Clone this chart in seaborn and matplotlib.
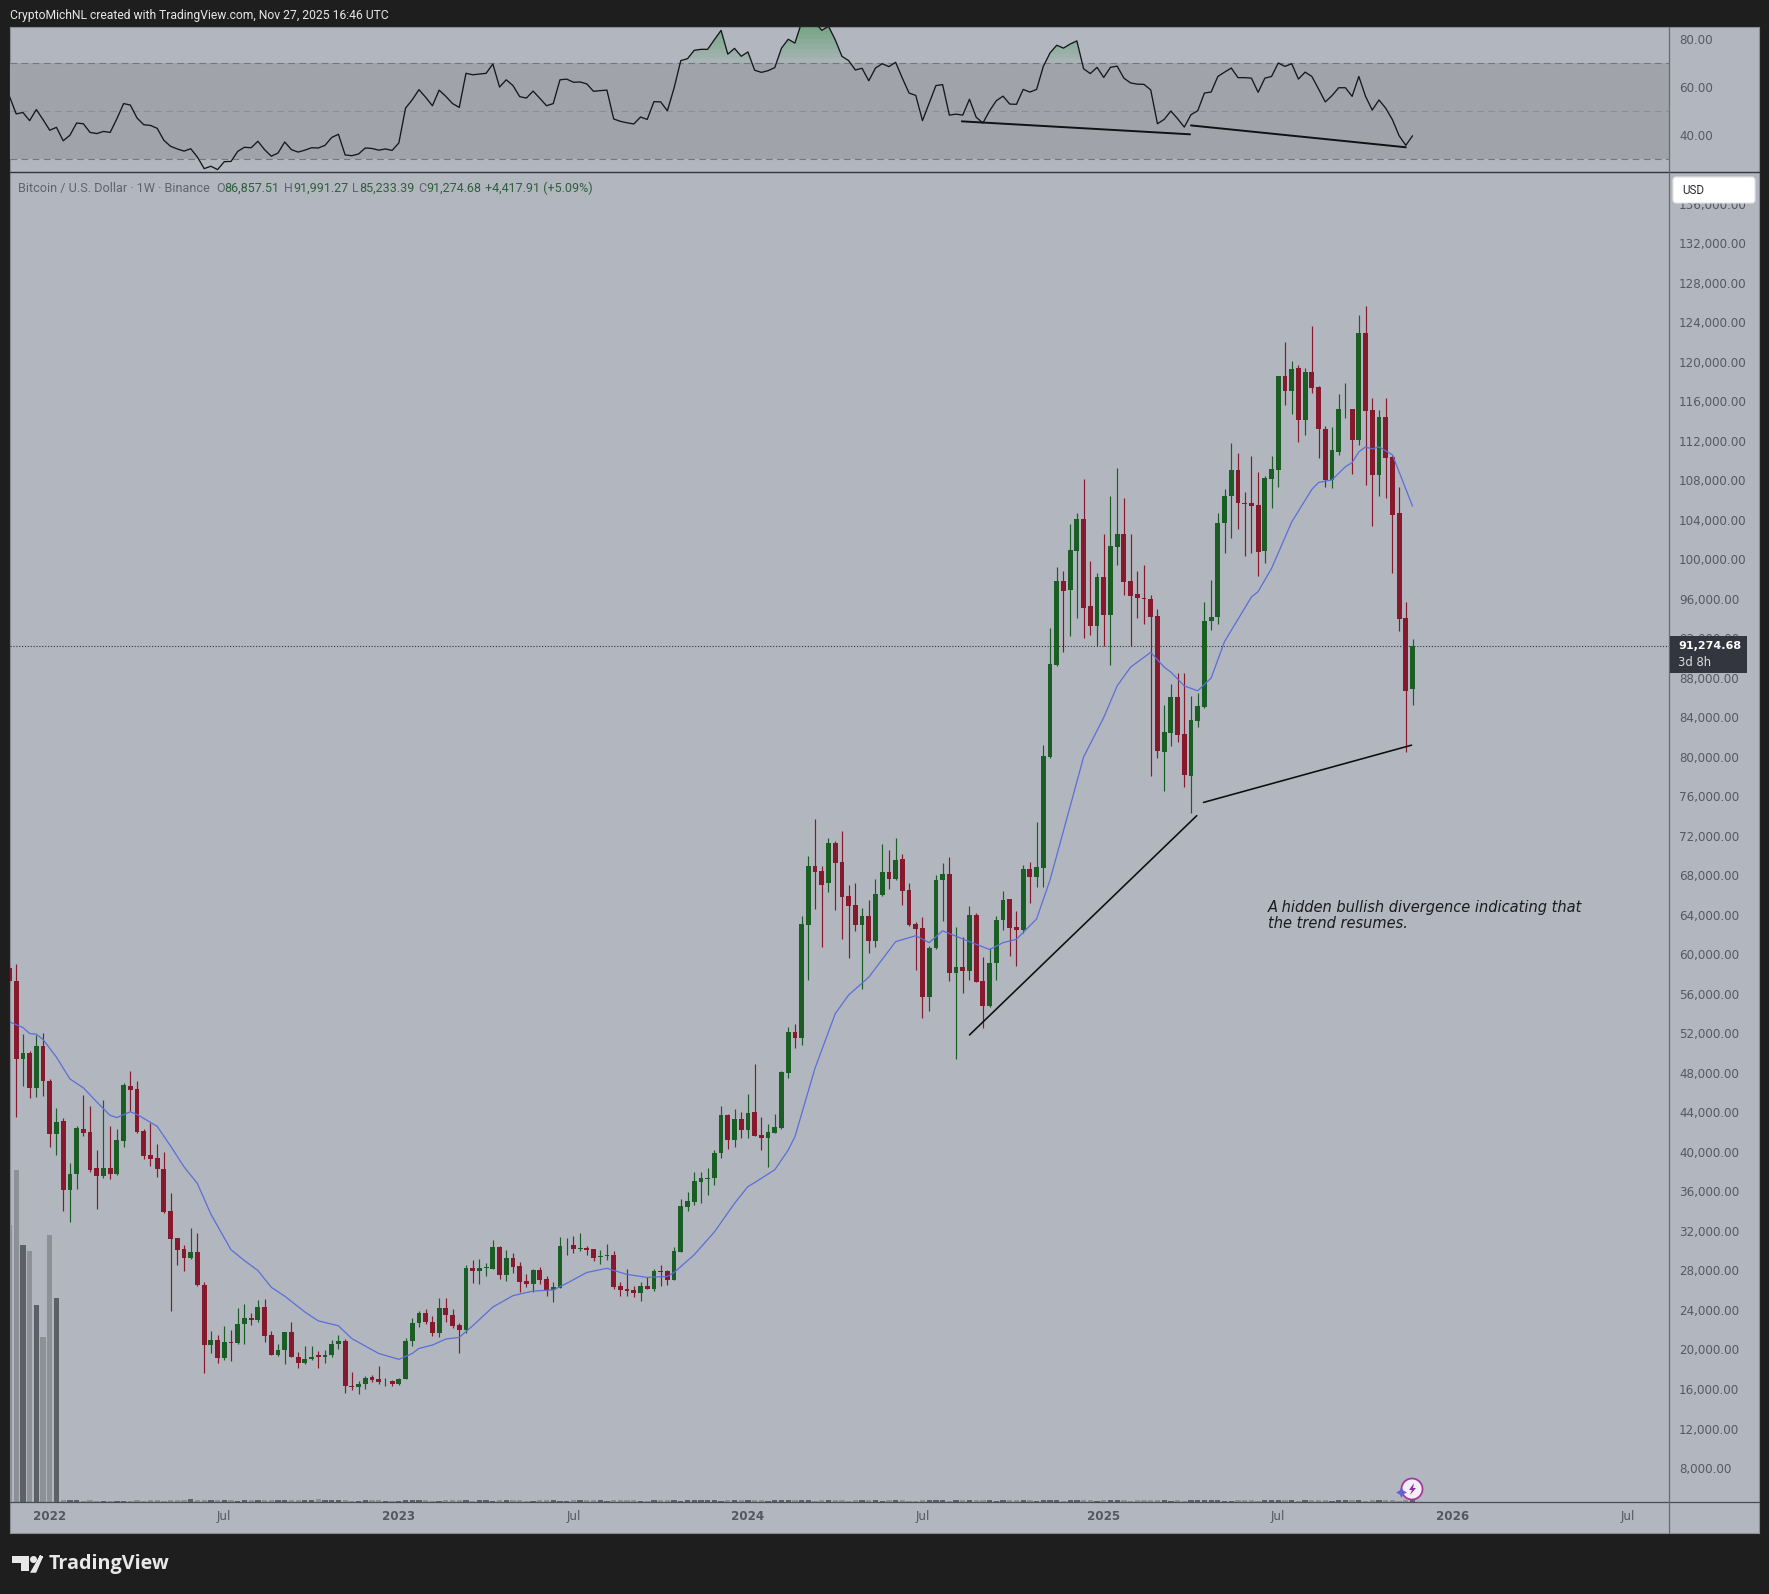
import numpy as np
import pandas as pd
import matplotlib
matplotlib.use("Agg")
import matplotlib.pyplot as plt
import seaborn as sns
from matplotlib.patches import Rectangle, FancyBboxPatch, Circle, Polygon

# weekly candles in thousands of USD (first one is cut by the left edge)
opens = [58.6, 57.3, 49.4, 50.06, 46.53, 50.7, 47.2, 41.87, 43.1, 36.2,
         37.8, 42.3, 42.0, 38.33, 37.6, 38.33, 37.8, 41.1, 46.7, 46.4,
         42.1, 39.7, 39.4, 38.3, 34.05, 31.25, 30.22, 29.27, 29.85, 26.5,
         20.45, 20.95, 19.16, 20.8, 20.7, 22.54, 23.24, 23.0, 24.28, 21.45,
         19.45, 19.9, 21.74, 19.28, 18.66, 19.0, 19.45, 19.2, 19.49, 20.53,
         20.9, 16.29, 16.21, 16.46, 17.2, 17.0, 16.66, 16.8, 16.46, 17.04,
         20.87, 22.7, 23.7, 22.83, 21.7, 24.2, 23.49, 22.51, 21.97, 28.25,
         27.98, 28.28, 28.2, 30.38, 27.54, 29.27, 28.45, 26.94, 26.63, 28.08,
         27.14, 25.99, 26.26, 30.55, 30.6, 30.18, 30.28, 30.18, 29.4, 29.5,
         29.57, 26.43, 26.09, 26.0, 25.69, 26.43, 26.1, 27.98, 27.95, 27.04,
         29.87, 34.46, 34.94, 36.96, 37.3, 37.33, 39.86, 43.75, 41.21, 43.31,
         42.23, 44.0, 41.72, 41.45, 41.96, 42.4, 47.97, 52.12, 51.58, 63.02,
         68.97, 68.49, 67.21, 71.33, 69.37, 65.93, 64.98, 62.99, 63.9, 61.4,
         66.03, 68.39, 67.65, 69.64, 66.53, 63.09, 62.65, 55.73, 60.63, 67.55,
         68.15, 58.16, 58.7, 58.33, 64.0, 57.32, 54.82, 59.11, 63.5, 65.62,
         62.79, 62.48, 68.66, 67.89, 68.79, 80.03, 89.32, 97.83, 96.92, 100.9,
         104.14, 95.3, 93.3, 98.27, 94.38, 101.3, 102.59, 97.83, 96.51, 96.1,
         96.0, 94.3, 80.54, 82.47, 86.11, 82.33, 78.08, 83.68, 85.1, 93.78,
         94.2, 103.74, 106.44, 109.07, 105.76, 105.69, 105.52, 100.87, 108.16, 109.07,
         118.59, 117.1, 119.37, 114.13, 118.96, 117.51, 113.22, 108.06, 110.86, 115.2,
         115.28, 112.11, 122.91, 115.15, 108.56, 114.47, 110.42, 104.68, 94.05, 86.86]
highs = [59.0, 59.0, 51.9, 50.2, 51.85, 52.0, 47.4, 44.45, 43.4, 38.85,
         42.6, 45.8, 44.66, 40.2, 45.3, 42.6, 42.3, 46.94, 48.2, 47.15,
         42.3, 42.95, 40.8, 40.0, 35.8, 31.25, 30.6, 32.26, 31.76, 26.85,
         21.86, 21.45, 22.4, 22.0, 24.2, 24.61, 23.65, 25.03, 25.1, 21.86,
         20.6, 21.78, 22.74, 19.7, 20.33, 20.33, 19.8, 19.9, 20.95, 21.45,
         21.03, 17.7, 16.79, 17.33, 17.41, 18.33, 17.08, 16.92, 17.12, 21.16,
         23.24, 23.86, 24.15, 23.36, 25.19, 25.19, 24.07, 22.72, 28.52, 29.06,
         29.16, 28.8, 31.09, 30.52, 30.08, 29.74, 28.89, 27.65, 28.15, 28.39,
         27.44, 26.83, 31.36, 31.26, 31.49, 31.76, 30.48, 30.18, 30.08, 30.68,
         30.0, 26.83, 28.15, 26.43, 26.83, 27.37, 28.12, 28.52, 28.05, 30.35,
         35.2, 35.9, 37.94, 37.94, 38.35, 40.2, 44.66, 43.85, 44.32, 44.08,
         45.87, 48.88, 43.58, 42.83, 43.85, 48.24, 52.69, 52.93, 63.9, 69.98,
         73.73, 68.97, 71.77, 71.5, 72.54, 67.04, 67.21, 64.68, 65.52, 67.65,
         71.19, 70.59, 71.77, 70.18, 67.28, 63.33, 63.77, 60.9, 68.05, 69.3,
         69.84, 62.82, 61.74, 64.95, 64.24, 59.78, 60.63, 63.94, 66.47, 65.62,
         64.41, 69.07, 69.34, 73.39, 81.2, 93.03, 99.28, 98.84, 103.57, 104.75,
         108.16, 99.85, 98.67, 102.55, 106.44, 109.3, 106.2, 102.55, 98.84, 99.45,
         96.41, 95.0, 85.27, 87.36, 88.54, 88.48, 86.18, 86.45, 95.73, 97.93,
         104.75, 107.11, 111.84, 110.76, 106.87, 110.49, 108.9, 108.46, 110.49, 118.59,
         122.07, 120.1, 119.7, 119.37, 123.65, 117.61, 113.53, 113.39, 116.77, 117.91,
         115.28, 124.77, 125.71, 116.33, 115.15, 116.33, 110.59, 107.38, 95.73, 91.99]
lows = [56.9, 43.5, 46.7, 45.5, 45.6, 45.7, 40.5, 39.66, 34.05, 32.9,
        36.25, 41.66, 38.0, 34.2, 37.4, 37.25, 37.7, 40.5, 44.15, 41.95,
        39.25, 38.6, 37.5, 33.85, 23.85, 28.56, 27.94, 29.2, 26.45, 17.6,
        19.6, 18.66, 18.95, 18.79, 20.6, 20.6, 22.53, 22.8, 20.74, 19.4,
        19.37, 18.54, 19.2, 18.12, 18.54, 18.95, 18.12, 18.66, 19.28, 20.03,
        15.63, 15.88, 15.46, 15.96, 16.7, 16.54, 16.29, 16.33, 16.44, 17.0,
        20.4, 22.32, 22.6, 21.37, 21.3, 22.82, 22.2, 19.61, 21.7, 26.77,
        26.63, 27.44, 28.12, 27.14, 26.97, 27.78, 25.86, 26.29, 25.86, 26.6,
        25.45, 24.81, 26.23, 29.57, 29.8, 29.94, 29.54, 29.0, 28.66, 29.06,
        26.09, 25.45, 25.45, 25.35, 24.91, 26.13, 25.92, 26.43, 26.53, 27.0,
        29.84, 34.06, 34.6, 34.8, 35.65, 36.7, 39.36, 40.27, 40.54, 41.45,
        41.45, 41.6, 40.2, 38.51, 41.89, 42.33, 47.53, 50.57, 50.84, 57.42,
        64.58, 60.8, 66.37, 64.51, 61.54, 59.68, 62.42, 56.51, 60.19, 60.73,
        65.93, 66.64, 67.55, 65.02, 62.89, 58.43, 53.54, 54.28, 60.56, 63.43,
        57.35, 49.38, 56.07, 57.42, 57.18, 52.59, 54.65, 57.42, 62.48, 59.85,
        58.87, 62.21, 65.25, 66.8, 66.8, 79.9, 89.22, 90.67, 92.29, 94.05,
        92.09, 92.36, 91.28, 91.28, 89.32, 99.45, 96.41, 91.28, 94.11, 93.44,
        78.11, 79.93, 76.59, 81.15, 81.49, 77.0, 74.3, 83.08, 85.0, 92.86,
        93.44, 100.63, 102.15, 103.06, 100.36, 100.63, 98.33, 99.68, 105.19, 107.38,
        115.65, 114.74, 111.87, 112.61, 116.83, 110.25, 107.38, 107.28, 110.59, 114.3,
        108.66, 111.6, 107.55, 103.43, 106.47, 106.2, 98.6, 92.76, 80.48, 85.23]
closes = [57.3, 49.4, 50.0, 46.53, 50.7, 47.2, 41.87, 43.0, 36.2, 37.8,
          42.4, 41.9, 38.2, 37.6, 38.33, 37.8, 41.2, 46.8, 46.3, 42.0,
          39.6, 39.3, 38.3, 33.9, 31.2, 30.1, 29.27, 29.85, 26.5, 20.45,
          20.95, 19.16, 20.74, 20.66, 22.57, 23.24, 22.95, 24.28, 21.37, 19.45,
          19.9, 21.74, 19.28, 18.66, 19.0, 19.28, 19.2, 19.49, 20.53, 20.9,
          16.29, 16.21, 16.46, 17.12, 16.96, 16.66, 16.75, 16.46, 17.04, 20.87,
          22.7, 23.7, 22.78, 21.7, 24.2, 23.45, 22.38, 21.97, 28.25, 27.98,
          28.25, 28.39, 30.38, 27.54, 29.27, 28.32, 26.83, 26.63, 28.08, 27.04,
          26.0, 26.33, 30.48, 30.6, 30.14, 30.24, 30.08, 29.26, 29.47, 29.57,
          26.33, 26.03, 25.96, 25.69, 26.43, 26.16, 27.95, 27.88, 27.04, 29.97,
          34.53, 35.04, 37.06, 37.37, 37.37, 39.86, 43.75, 41.21, 43.31, 42.23,
          43.92, 41.62, 41.45, 41.99, 42.5, 48.14, 52.12, 51.58, 63.09, 69.0,
          68.39, 67.04, 71.33, 69.3, 65.86, 64.91, 63.02, 63.9, 61.4, 66.13,
          68.39, 67.65, 69.57, 66.47, 62.99, 62.58, 55.73, 60.63, 67.55, 68.15,
          58.16, 58.7, 58.33, 64.0, 57.25, 54.82, 59.11, 63.5, 65.52, 62.72,
          62.48, 68.66, 67.89, 68.83, 80.1, 89.42, 97.83, 96.85, 100.97, 104.14,
          95.13, 93.3, 98.2, 94.38, 101.37, 102.59, 97.76, 96.34, 96.14, 96.0,
          94.2, 80.6, 82.5, 86.11, 82.23, 78.18, 83.75, 85.17, 93.78, 94.2,
          103.74, 106.44, 109.07, 105.69, 105.63, 105.42, 100.8, 108.23, 109.14, 118.59,
          117.1, 119.27, 114.13, 118.96, 117.41, 113.19, 108.06, 111.1, 115.21, 115.25,
          112.11, 122.91, 115.08, 108.56, 114.47, 110.32, 104.51, 93.98, 86.69, 91.27468]

# volume, arbitrary units (only the first bars stick out, the rest are stubs on the axis)
volume = [277, 332, 257, 251, 197, 165, 267, 204,
          2, 2, 2, 1, 2, 1, 1, 1, 1, 1, 1, 2, 1, 2, 2, 1, 2, 2, 2, 3, 2, 2,
          2, 2, 2, 2, 1, 2, 2, 2, 2, 2, 2, 2, 2, 2, 2, 2, 3, 2, 2, 2, 2, 1,
          1, 2, 2, 2, 1, 1, 1, 2, 2, 2, 2, 1, 1, 2, 2, 2, 2, 1, 2, 2, 1, 2,
          2, 2, 2, 1, 1, 2, 2, 2, 1, 1, 2, 2, 2, 2, 2, 1, 2, 2, 2, 2, 1, 1,
          2, 2, 2, 2, 1, 2, 2, 2, 2, 2, 1, 2, 2, 2, 2, 2, 2, 1, 2, 2, 2, 2,
          2, 2, 1, 2, 2, 2, 2, 1, 2, 2, 2, 2, 1, 2, 2, 2, 1, 1, 2, 2, 2, 2,
          1, 2, 2, 2, 2, 2, 2, 1, 2, 2, 2, 2, 2, 1, 2, 2, 2, 1, 2, 2, 2, 2,
          1, 2, 2, 2, 2, 1, 2, 2, 2, 2, 2, 1, 2, 1, 2, 2, 2, 2, 2, 1, 1, 2,
          2, 2, 1, 2, 2, 2, 2, 2, 1, 2, 2, 2, 2, 1, 2, 2, 2, 2, 1, 2, 2, 2,
          2, 1, 2, 2, 2, 2, 1, 2, 2, 2, 2, 1, 2, 2, 2, 2, 1, 2, 2, 2, 2, 1]

rsi = [56.1, 48.8, 49.4, 46.0, 50.6, 46.4, 42.0, 43.2, 37.6, 39.9,
       45.0, 44.7, 41.1, 40.6, 41.5, 41.1, 46.8, 53.1, 52.5, 47.1,
       44.3, 44.0, 42.8, 37.8, 35.3, 34.2, 33.3, 34.3, 30.8, 26.0,
       27.0, 25.6, 28.9, 29.0, 33.2, 34.9, 34.7, 37.4, 33.9, 31.2,
       32.5, 37.1, 33.9, 32.9, 33.7, 34.7, 34.6, 35.7, 39.0, 40.3,
       31.7, 31.4, 32.1, 34.6, 34.4, 33.7, 34.2, 33.6, 36.7, 51.2,
       54.7, 58.9, 55.7, 52.2, 58.7, 56.1, 53.1, 51.5, 65.7, 65.1,
       65.4, 65.7, 69.6, 60.0, 63.0, 60.6, 56.0, 55.4, 58.3, 55.3,
       52.2, 53.1, 63.0, 63.3, 62.0, 62.1, 61.3, 58.2, 58.5, 58.7,
       46.7, 45.7, 45.1, 44.6, 47.5, 46.5, 53.9, 53.8, 50.1, 59.6,
       71.0, 71.8, 75.3, 75.7, 75.7, 79.7, 83.6, 73.7, 76.1, 72.8,
       74.6, 67.0, 66.1, 66.8, 68.1, 76.2, 79.9, 78.3, 87.0, 88.5,
       87.0, 83.6, 85.3, 79.7, 72.8, 71.0, 67.1, 67.8, 62.6, 67.9,
       69.7, 68.5, 70.3, 63.7, 57.5, 56.5, 46.0, 53.3, 60.6, 61.0,
       48.3, 48.7, 48.3, 54.9, 47.4, 45.0, 50.1, 54.3, 56.2, 52.9,
       52.8, 59.0, 57.9, 59.0, 68.6, 74.2, 77.4, 76.2, 77.9, 79.2,
       67.6, 65.6, 68.2, 64.0, 68.2, 68.7, 63.7, 61.7, 61.2, 61.1,
       58.8, 44.7, 46.5, 50.0, 46.8, 43.3, 48.5, 50.1, 57.5, 57.9,
       64.4, 66.2, 67.9, 63.9, 63.9, 63.7, 57.8, 63.7, 64.4, 70.0,
       68.6, 69.7, 63.3, 66.2, 64.4, 59.2, 53.8, 56.4, 59.7, 59.7,
       56.1, 64.4, 56.1, 50.4, 54.6, 51.2, 46.4, 39.7, 35.7, 39.7]

# moving average vertices: position in the weekly list (0 = first candle) and value
ma_pos = [0, 2, 3, 4, 5, 7, 9, 11, 13, 15, 16, 18, 19, 22, 24, 26, 28, 30, 33, 35, 37,
          39, 41, 44, 46, 49, 51, 55, 58, 60, 61, 63, 65, 67, 69, 72, 75, 78, 81, 83,
          86, 89, 92, 95, 98, 99, 102, 105, 108, 110, 111, 114, 116, 117, 120, 123,
          125, 128, 132, 135, 137, 139, 143, 146, 148, 150, 153, 155, 158, 160, 163,
          165, 167, 170, 172, 173, 175, 177, 179, 181, 185, 186, 188, 191, 194, 195,
          197, 199, 200, 201, 202, 203, 204, 206, 209]
ma_val = [53.18, 52.6, 52.0, 51.93, 51.39, 49.6, 47.4, 46.5, 45.07, 43.7, 43.49, 44.07,
          43.8, 42.6, 40.6, 38.5, 36.8, 33.7, 30.1, 29.0, 28.0, 26.3, 25.4, 23.8, 22.9,
          22.4, 21.1, 19.6, 19.0, 19.6, 20.11, 20.45, 21.06, 21.23, 22.4, 24.3, 25.45,
          25.92, 26.03, 26.7, 27.8, 28.22, 27.6, 27.3, 27.4, 27.8, 29.6, 31.9, 34.8,
          36.5, 36.9, 38.2, 40.2, 41.55, 48.5, 54.0, 55.9, 57.7, 61.3, 61.9, 61.2, 62.4,
          61.3, 60.5, 61.2, 61.54, 63.6, 67.55, 75.0, 80.0, 84.0, 87.2, 89.1, 90.6, 89.1,
          88.6, 87.2, 86.7, 88.0, 91.7, 96.2, 96.75, 99.1, 103.8, 107.1, 107.8, 108.06,
          109.4, 109.81, 110.9, 111.4, 111.2, 111.4, 110.6, 105.4]

price_ticks = list(range(8000, 136001, 4000))
rsi_ticks = [40, 60, 80]
rsi_levels = [30, 50, 70]
time_ticks = ["2022-01-03", "2022-07-04", "2023-01-02", "2023-07-03", "2024-01-01",
              "2024-07-01", "2025-01-06", "2025-07-07", "2026-01-05", "2026-07-06"]
time_labels = ["2022", "Jul", "2023", "Jul", "2024", "Jul", "2025", "Jul", "2026", "Jul"]

# hand drawn trend lines
trend_price = [("2024-08-19", 51850, "2025-04-13", 74060), ("2025-04-20", 75400, "2025-11-23", 81200)]
trend_rsi = [("2024-08-11", 45.7, "2025-04-06", 40.3), ("2025-04-07", 44.0, "2025-11-17", 34.9)]

BG = "#b2b6be"
BAND = "#a0a3aa"
DARK = "#1e1e1e"
GREEN = "#1b5e25"
RED = "#87192d"
TXT = "#555861"
W, H = 1769, 1594

sns.set_theme(style="white")
plt.rcParams["font.family"] = ["DejaVu Sans"]


def box(x0, y0, x1, y1):
    return [x0 / W, 1 - y1 / H, (x1 - x0) / W, (y1 - y0) / H]


n = len(closes)
df = pd.DataFrame({"week": pd.date_range("2021-11-22", periods=n, freq="7D"),
                   "open": np.array(opens) * 1000, "high": np.array(highs) * 1000,
                   "low": np.array(lows) * 1000, "close": np.array(closes) * 1000,
                   "volume": volume[:n], "rsi": rsi})
df["up"] = df["close"] >= df["open"]
ma = pd.DataFrame({"week": df["week"].iloc[0] + pd.to_timedelta(np.array(ma_pos) * 7, unit="D"),
                   "ma": np.array(ma_val) * 1000})

fig = plt.figure(figsize=(W / 100, H / 100), dpi=100, facecolor=DARK)
panel = fig.add_axes(box(10, 27, 1759, 1533), facecolor=BG)
panel.set_xticks([])
panel.set_yticks([])
for s in panel.spines.values():
    s.set_color("#8a8d94")
    s.set_linewidth(0.8)

xlim = (pd.Timestamp("2021-11-22 13:00"), pd.Timestamp("2026-08-18 10:00"))

# RSI pane
ax_rsi = fig.add_axes(box(10, 27, 1669, 172), facecolor="none")
ax_rsi.axhspan(rsi_levels[0], rsi_levels[2], color=BAND, lw=0, zorder=0)
for lev, col in zip(rsi_levels, ["#74777e", "#8b8e95", "#74777e"]):
    ax_rsi.axhline(lev, color=col, lw=0.8, ls=(0, (6, 4)), zorder=1)
for lev in np.arange(70, 86, 2):
    ax_rsi.fill_between(df["week"], lev, df["rsi"], where=df["rsi"] > lev, interpolate=True,
                        color="#3f9a50", alpha=0.08, lw=0, zorder=1)
sns.lineplot(data=df, x="week", y="rsi", ax=ax_rsi, color="#15171c", lw=0.95, legend=False,
             errorbar=None, zorder=3)
for x0, y0, x1, y1 in trend_rsi:
    ax_rsi.plot([pd.Timestamp(x0), pd.Timestamp(x1)], [y0, y1], color="#101114", lw=1.4, zorder=4)
ax_rsi.set_xlim(xlim)
ax_rsi.set_ylim(24.6, 85.0)
ax_rsi.set_xticks([])
ax_rsi.set_xlabel("")
ax_rsi.set_ylabel("")
ax_rsi.yaxis.tick_right()
ax_rsi.set_yticks(rsi_ticks)
ax_rsi.set_yticklabels([f"{v:.2f}" for v in rsi_ticks], color=TXT, fontsize=8.6)
ax_rsi.tick_params(axis="y", length=0, pad=7.2)
for s in ax_rsi.spines.values():
    s.set_visible(False)

# volume sits under the candles on its own hidden scale
ax_vol = fig.add_axes(box(10, 172, 1669, 1502), facecolor="none")
ax_vol.bar(df["week"], df["volume"], width=5.5, lw=0,
           color=np.where(df["up"], "#5d5f69", "#8e9098"))
ax_vol.set_xlim(xlim)
ax_vol.set_ylim(0, 1330)
ax_vol.axis("off")

# price pane
ax = fig.add_axes(box(10, 172, 1669, 1502), facecolor="none")
colors = np.where(df["up"], GREEN, RED)
ax.vlines(df["week"], df["low"], df["high"], colors=colors, lw=0.85, zorder=2)
ax.bar(df["week"], (df["close"] - df["open"]).abs().clip(lower=60),
       bottom=df[["open", "close"]].min(axis=1), width=5.0, color=colors, lw=0, zorder=3)
sns.lineplot(data=ma, x="week", y="ma", ax=ax, color="#5a6fd8", lw=0.9, legend=False,
             errorbar=None, zorder=4)
ax.axhline(closes[-1] * 1000, color="#33363c", lw=0.8, ls=(0, (1, 1.6)), zorder=1)
for x0, y0, x1, y1 in trend_price:
    ax.plot([pd.Timestamp(x0), pd.Timestamp(x1)], [y0, y1], color="#0c0d10", lw=1.15, zorder=5)
ax.set_xlim(xlim)
ax.set_ylim(4557, 139240)
ax.set_xlabel("")
ax.set_ylabel("")
ax.yaxis.tick_right()
ax.set_yticks(price_ticks)
ax.set_yticklabels([f"{v:,.0f}.00" for v in price_ticks], color=TXT, fontsize=8.6)
ax.tick_params(axis="y", length=0, pad=7.2)
ax.set_xticks([pd.Timestamp(t) for t in time_ticks])
ax.set_xticklabels(time_labels, color=TXT, fontsize=8.6)
for lab, name in zip(ax.get_xticklabels(), time_labels):
    if name != "Jul":
        lab.set_fontweight("bold")
ax.tick_params(axis="x", length=0, pad=6)
for s in ax.spines.values():
    s.set_visible(False)

# everything that is not data goes on a pixel overlay
ov = fig.add_axes([0, 0, 1, 1], facecolor="none")
ov.set_xlim(0, W)
ov.set_ylim(H, 0)
ov.axis("off")
ov.plot([10, 1759], [172, 172], color="#34363d", lw=1.0)
ov.plot([10, 1759], [1502, 1502], color="#4a4c54", lw=0.9)
ov.plot([1669, 1669], [27, 1533], color="#686b72", lw=0.9)

ov.text(10, 15, "CryptoMichNL created with TradingView.com, Nov 27, 2025 16:46 UTC", color="#e8e8e8",
        fontsize=8.7, family="Roboto", va="center")
ov.text(18, 188, "Bitcoin / U.S. Dollar · 1W · Binance", color="#5f636c", fontsize=9.1, family="Roboto",
        va="center")
for xpos, letter, off, value in [(216, "O", 8.5, "86,857.51"), (284, "H", 8.9, "91,991.27"),
                                 (352, "L", 6.8, "85,233.39"), (418, "C", 8.2, "91,274.68")]:
    ov.text(xpos, 188, letter, color="#5f636c", fontsize=9.0, family="Roboto", va="center")
    ov.text(xpos + off, 188, value, color="#2f5f3d", fontsize=9.0, family="Roboto", va="center")
ov.text(485, 188, "+4,417.91 (+5.09%)", color="#2f5f3d", fontsize=9.0, family="Roboto", va="center")

ov.add_patch(FancyBboxPatch((1675, 179), 78, 22, boxstyle="round,pad=2,rounding_size=3",
                            fc="white", ec="#e4e4e8", lw=0.8, zorder=5))
ov.text(1682, 190, "USD", color="#2a2c32", fontsize=8.4, family="Roboto", va="center", zorder=6)

ov.add_patch(Rectangle((1670, 636), 77, 37, fc="#33363f", ec="none", zorder=5))
ov.text(1678, 646, "91,274.68", color="white", fontsize=8.0, fontweight="bold", va="center", zorder=6)
ov.text(1678, 662, "3d 8h", color="#dcdde0", fontsize=8.4, va="center", zorder=6)

ov.text(1268, 907, "A hidden bullish divergence indicating that", color="#1a1b20", fontsize=10.5,
        style="italic", va="center")
ov.text(1268, 923, "the trend resumes.", color="#1a1b20", fontsize=10.5, style="italic", va="center")

# chart alert badge
ov.add_patch(Circle((1412, 1489), 10.5, fc="#f4eef6", ec="#a23a9d", lw=1.3, zorder=5))
ov.add_patch(Polygon([(1414, 1483), (1409, 1490), (1412, 1490), (1410, 1495), (1416, 1488), (1413, 1488)],
                     fc="#8e2fa0", ec="none", zorder=6))
ov.scatter([1401], [1492], marker=(4, 1, 0), s=60, c="#6a5bd6", lw=0, zorder=7)

# logo
ov.add_patch(Polygon([(12, 1556), (29, 1556), (29, 1571), (21, 1571), (21, 1563), (12, 1563)], fc="#e8e8e8", ec="none"))
ov.add_patch(Circle((33.5, 1559.5), 3.5, fc="#e8e8e8", ec="none"))
ov.add_patch(Polygon([(35, 1571), (41.5, 1556), (33, 1571)], fc="#e8e8e8", ec="#e8e8e8", lw=2.5))
ov.text(49, 1564, "TradingView", color="#e8e8e8", fontsize=14.2, fontweight="bold", family="Open Sans", va="center")

fig.savefig("out.png", dpi=100, facecolor=DARK)
